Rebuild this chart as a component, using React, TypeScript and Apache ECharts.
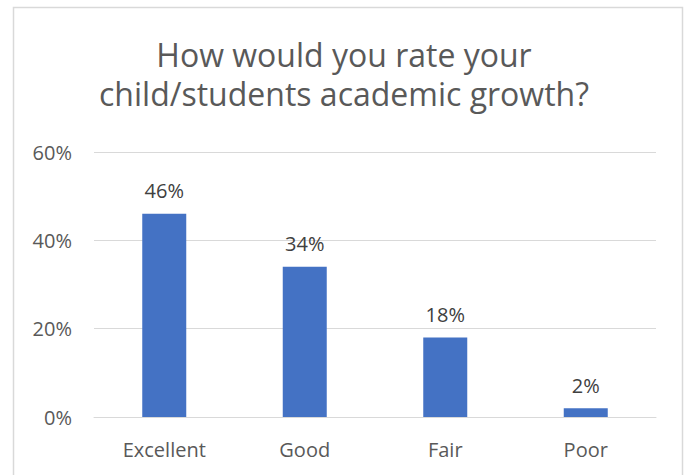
import React, { useEffect, useRef } from "react";
import * as echarts from "echarts";

const categories = ["Excellent", "Good", "Fair", "Poor"];
const values = [46, 34, 18, 2];
const titleLines = ["How would you rate your", "child/students academic growth?"];

export default function App() {
  const ref = useRef<HTMLDivElement>(null);
  useEffect(() => {
    if (!ref.current) return;
    const chart = echarts.init(ref.current, null, { renderer: "svg" });
    const font = "Open Sans";
    const titleStyle = {
      fontFamily: font,
      fontSize: 32,
      fontWeight: "normal",
      color: "#595959",
      lineHeight: 39,
    };
    chart.setOption({
      animation: false,
      backgroundColor: "#ffffff",
      title: titleLines.map((t, i) => ({
        text: t,
        left: "center",
        top: 35 + i * 39,
        padding: 0,
        textStyle: titleStyle,
      })),
      graphic: [
        {
          type: "rect",
          shape: { x: 13.5, y: 7.5, width: 669, height: 480 },
          style: { fill: "none", stroke: "#d9d9d9", lineWidth: 1.5 },
          silent: true,
        },
      ],
      grid: { left: 94, right: 32, top: 152, bottom: 58, containLabel: false },
      xAxis: {
        type: "category",
        data: categories,
        axisLine: { show: true, lineStyle: { color: "#d9d9d9", width: 1 } },
        axisTick: { show: false },
        axisLabel: { color: "#595959", fontSize: 20, fontFamily: font, margin: 22 },
      },
      yAxis: {
        type: "value",
        min: 0,
        max: 60,
        interval: 20,
        axisLine: { show: false },
        axisTick: { show: false },
        splitLine: { lineStyle: { color: "#d9d9d9", width: 1 } },
        axisLabel: {
          color: "#595959",
          fontSize: 20,
          fontFamily: font,
          margin: 22,
          formatter: (v: number) => v + "%",
        },
      },
      series: [
        {
          type: "bar",
          data: values,
          barWidth: 44,
          itemStyle: { color: "#4472C4" },
          label: {
            show: true,
            position: "top",
            distance: 13,
            color: "#404040",
            fontSize: 20,
            fontFamily: font,
            formatter: (p: any) => p.value + "%",
          },
        },
      ],
    });
    return () => chart.dispose();
  }, []);
  return (
    <div
      ref={ref}
      style={{ position: "absolute", left: 0, top: 0, width: 688, height: 475 }}
    />
  );
}
